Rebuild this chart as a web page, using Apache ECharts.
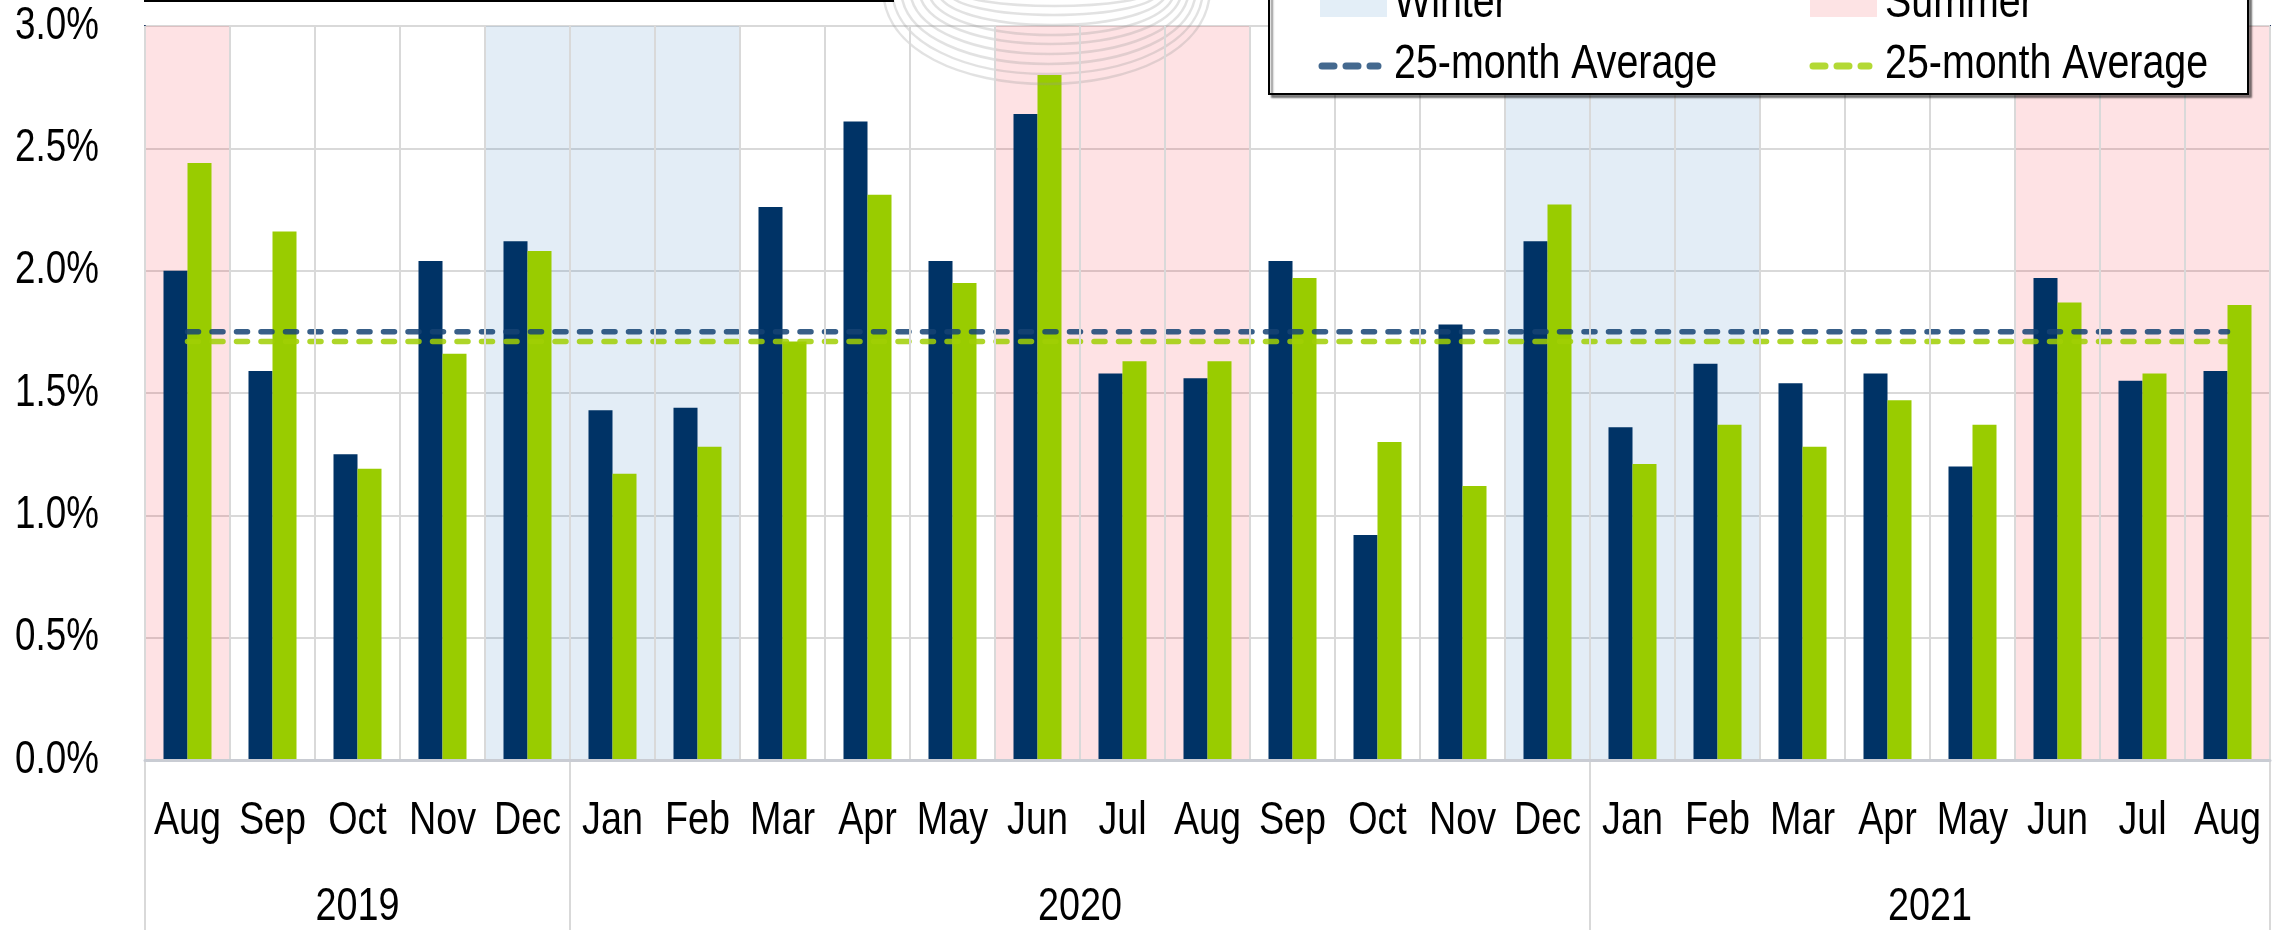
<!DOCTYPE html>
<html>
<head>
<meta charset="utf-8">
<script src="https://cdn.jsdelivr.net/npm/echarts@6/dist/echarts.min.js"></script>
<style>
html,body{margin:0;padding:0;background:#fff;}
#chart{width:2282px;height:930px;}
</style>
</head>
<body>
<div id="chart"></div>
<script>
// ---- data ----
const months = ['Aug','Sep','Oct','Nov','Dec','Jan','Feb','Mar','Apr','May','Jun','Jul','Aug','Sep','Oct','Nov','Dec','Jan','Feb','Mar','Apr','May','Jun','Jul','Aug'];
const years = ['2019','2020','2021'];
const yearSpans = [5, 12, 8];
const seriesA = [2.00,1.59,1.25,2.04,2.12,1.43,1.44,2.26,2.61,2.04,2.64,1.58,1.56,2.04,0.92,1.78,2.12,1.36,1.62,1.54,1.58,1.20,1.97,1.55,1.59];
const seriesB = [2.44,2.16,1.19,1.66,2.08,1.17,1.28,1.71,2.31,1.95,2.80,1.63,1.63,1.97,1.30,1.12,2.27,1.21,1.37,1.28,1.47,1.37,1.87,1.58,1.86];
const avgA = 1.75;
const avgB = 1.71;
const winterMonths = ['Dec','Jan','Feb'];
const summerMonths = ['Jun','Jul','Aug'];
const yTicks = [0, 0.5, 1.0, 1.5, 2.0, 2.5, 3.0];
const legendLabels = ['Winter', 'Summer', '25-month Average', '25-month Average'];

// ---- styling helpers ----
const FONT = "'Liberation Sans', Arial, sans-serif";
const NARROW = 0.82; // Arial Narrow look
const C_NAVY = '#003366', C_GREEN = '#99CC00';
const C_AVG_A = 'rgba(21,67,115,0.85)', C_AVG_B = 'rgba(160,207,3,0.85)';
const C_WINTER_OVL = 'rgba(60,130,190,0.14)', C_SUMMER_OVL = 'rgba(245,0,17,0.115)';

const boundaries = [0];
yearSpans.forEach(s => boundaries.push(boundaries[boundaries.length - 1] + s));
const yearMids = yearSpans.map((s, i) => boundaries[i] + s / 2);
function bands(list) {
  const out = [];
  months.forEach((m, i) => { if (list.includes(m)) out.push([{ xAxis: i }, { xAxis: i + 1 }]); });
  return out;
}
function label(text, x, y, size, align, sx) {
  return {
    type: 'text', x: x, y: y, scaleX: sx || NARROW, z: 70, silent: true,
    style: { text: text, fontSize: size, fontFamily: FONT, fill: '#000',
             align: align, verticalAlign: 'middle', textAlign: align, textVerticalAlign: 'middle' }
  };
}

const chart = echarts.init(document.getElementById('chart'), null, { renderer: 'canvas' });

const option = {
  animation: false,
  backgroundColor: '#ffffff',
  grid: { left: 145, top: 26, width: 2125, height: 734, show: true, borderColor: '#203864', borderWidth: 2, backgroundColor: 'transparent' },
  xAxis: [
    {
      type: 'category', data: months, position: 'bottom',
      axisLine: { show: true, lineStyle: { color: '#C9CCD3', width: 3 } },
      axisTick: { show: false },
      splitLine: { show: true, lineStyle: { color: '#D9D9D9', width: 2 } },
      axisLabel: { show: false },
      z: 6
    },
    {
      type: 'value', min: 0, max: boundaries[boundaries.length - 1], position: 'bottom',
      axisLine: { show: false },
      splitLine: { show: false },
      axisTick: { show: true, customValues: boundaries, length: 170, lineStyle: { color: '#D9D9D9', width: 2 } },
      axisLabel: { show: false }
    }
  ],
  yAxis: {
    type: 'value', min: yTicks[0], max: yTicks[yTicks.length - 1], interval: 0.5,
    axisLine: { show: true, lineStyle: { color: '#203864', width: 2 } },
    axisTick: { show: false },
    splitLine: { show: true, lineStyle: { color: '#D9D9D9', width: 2 } },
    axisLabel: { show: false }
  },
  series: [
    { name: 'Series A', type: 'bar', data: seriesA, barWidth: 24, barGap: '0%', z: 2, itemStyle: { color: C_NAVY } },
    { name: 'Series B', type: 'bar', data: seriesB, barWidth: 24, barGap: '0%', z: 2, itemStyle: { color: C_GREEN } },
    {
      name: 'Winter', type: 'line', xAxisIndex: 1, data: [], z: 3, silent: true,
      markArea: { silent: true, itemStyle: { color: C_WINTER_OVL }, data: bands(winterMonths) }
    },
    {
      name: 'Summer', type: 'line', xAxisIndex: 1, data: [], z: 3, silent: true,
      markArea: { silent: true, itemStyle: { color: C_SUMMER_OVL }, data: bands(summerMonths) }
    },
    {
      name: 'Average A', type: 'line', data: months.map(() => avgA), symbol: 'none', z: 4, silent: true,
      lineStyle: { color: C_AVG_A, width: 5.5, type: [11, 13.5], cap: 'round' }
    },
    {
      name: 'Average B', type: 'line', data: months.map(() => avgB), symbol: 'none', z: 4, silent: true,
      lineStyle: { color: C_AVG_B, width: 5.5, type: [11, 13.5], cap: 'round' }
    }
  ]
};
chart.setOption(option);

// ---- text labels & decorations placed through the axes ----
const g = [];
// watermark arcs
const arcBottoms = [84, 74, 64, 54, 44, 35, 25, 15, 6];
arcBottoms.forEach((b, k) => {
  const x1 = 883 + k * 9, x2 = 1210 - k * 7, y0 = -12;
  const cpy = (8 * b - 2 * y0) / 6;
  g.push({
    type: 'bezierCurve', z: 5, silent: true,
    shape: { x1: x1, y1: y0, x2: x2, y2: y0, cpx1: x1, cpy1: cpy, cpx2: x2, cpy2: cpy },
    style: { stroke: 'rgba(150,150,150,0.28)', lineWidth: 2.5, fill: null }
  });
});
// top-left (cut-off) box
g.push({ type: 'rect', z: 50, silent: true, shape: { x: 145, y: -100, width: 748, height: 101 },
  style: { fill: '#fff', stroke: '#000', lineWidth: 2 } });
// legend box
g.push({ type: 'rect', z: 50, silent: true, shape: { x: 1269, y: -60, width: 979, height: 154 },
  style: { fill: '#fff', stroke: '#000', lineWidth: 2, shadowColor: 'rgba(0,0,0,0.45)', shadowOffsetX: 3, shadowOffsetY: 3, shadowBlur: 2 } });
// legend symbols
g.push({ type: 'rect', z: 60, silent: true, shape: { x: 1320, y: -18, width: 67, height: 35 }, style: { fill: '#E3EEF7' } });
g.push({ type: 'rect', z: 60, silent: true, shape: { x: 1810, y: -18, width: 67, height: 35 }, style: { fill: '#FDE3E4' } });
g.push({ type: 'line', z: 60, silent: true, shape: { x1: 1322, y1: 66, x2: 1378, y2: 66 },
  style: { stroke: '#44698F', lineWidth: 7, lineDash: [12, 12], lineCap: 'round' } });
g.push({ type: 'line', z: 60, silent: true, shape: { x1: 1813, y1: 66, x2: 1869, y2: 66 },
  style: { stroke: '#B3D935', lineWidth: 7, lineDash: [12, 12], lineCap: 'round' } });
g.push(label(legendLabels[0], 1394, 4, 48, 'left'));
g.push(label(legendLabels[1], 1885, 4, 48, 'left'));
g.push(label(legendLabels[2], 1394, 65, 48, 'left'));
g.push(label(legendLabels[3], 1885, 65, 48, 'left'));
// y tick labels
yTicks.forEach(v => {
  const y = chart.convertToPixel({ yAxisIndex: 0 }, v);
  g.push(label(v.toFixed(1) + '%', 99, y, 46, 'right', 0.8));
});
// month labels
const axisY = chart.convertToPixel({ yAxisIndex: 0 }, 0);
months.forEach((m, i) => {
  const x = chart.convertToPixel({ xAxisIndex: 0 }, i);
  g.push(label(m, x, axisY + 61, 46, 'center'));
});
// year labels
years.forEach((yr, i) => {
  const x = chart.convertToPixel({ xAxisIndex: 1 }, yearMids[i]);
  g.push(label(yr, x, axisY + 147, 46, 'center'));
});
chart.setOption({ graphic: { elements: g } });
</script>
</body>
</html>
